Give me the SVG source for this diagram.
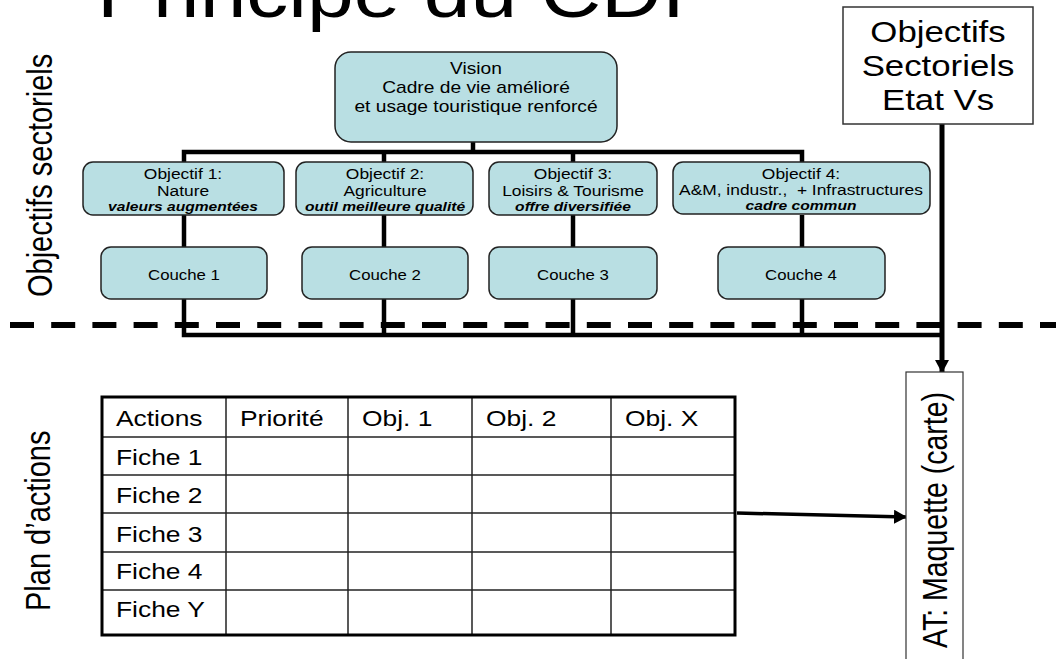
<svg xmlns="http://www.w3.org/2000/svg" width="1056" height="659" viewBox="0 0 1056 659">
<style>
text{font-family:"Liberation Sans",Arial,sans-serif;fill:#000}
.box{fill:#B9DFE3;stroke:#222;stroke-width:1.5}
.plain{fill:#fff;stroke:#333;stroke-width:1.5}
.wire{fill:none;stroke:#000;stroke-width:4.5}
.bi{font-weight:bold;font-style:italic;font-size:13px}
.grid{stroke:#222;stroke-width:1.5}
</style>
<defs>
<marker id="ah" markerWidth="14" markerHeight="14" refX="12" refY="7" orient="auto" markerUnits="userSpaceOnUse">
<path d="M0,0 L13,7 L0,14 Z" fill="#000"/>
</marker>
</defs>
<rect width="1056" height="659" fill="#fff"/>

<g id="title">
<text transform="translate(97,17) scale(1.2,1)" font-size="70">Principe du CDI</text>
</g>

<g id="side-labels">
<text transform="translate(52,297) scale(1.2,1) rotate(-90)" font-size="29">Objectifs sectoriels</text>
<text transform="translate(50,611) scale(1.2,1) rotate(-90)" font-size="29">Plan d’actions</text>
</g>

<g id="separator">
<line x1="10" y1="325" x2="1056" y2="325" stroke="#000" stroke-width="6" stroke-dasharray="24 17.2"/>
</g>

<g id="connectors">
<polyline class="wire" points="473,142 473,152"/>
<polyline class="wire" points="184,162 184,152 802,152 802,162"/>
<line class="wire" x1="384" y1="152" x2="384" y2="162"/>
<line class="wire" x1="573" y1="152" x2="573" y2="162"/>
<line class="wire" x1="184" y1="215" x2="184" y2="247"/>
<line class="wire" x1="384" y1="215" x2="384" y2="247"/>
<line class="wire" x1="573" y1="215" x2="573" y2="247"/>
<line class="wire" x1="802" y1="215" x2="802" y2="247"/>
<polyline class="wire" points="184,299 184,335 944,335"/>
<line class="wire" x1="384" y1="299" x2="384" y2="335"/>
<line class="wire" x1="573" y1="299" x2="573" y2="335"/>
<line class="wire" x1="802" y1="299" x2="802" y2="335"/>
<line x1="942" y1="124" x2="942" y2="372" stroke="#000" stroke-width="5" marker-end="url(#ah)"/>
<line x1="737" y1="513" x2="906" y2="517" stroke="#000" stroke-width="3.5" marker-end="url(#ah)"/>
</g>

<g id="vision">
<rect class="box" x="335" y="52" width="282" height="90" rx="16"/>
<text transform="translate(476,0) scale(1.2,1)" font-size="16" text-anchor="middle"><tspan x="0" y="74">Vision</tspan><tspan x="0" y="93">Cadre de vie amélioré</tspan><tspan x="0" y="112">et usage touristique renforcé</tspan></text>
</g>

<g id="objectif1">
<rect class="box" x="83" y="162" width="201" height="53" rx="10"/>
<text transform="translate(183,0) scale(1.2,1)" font-size="14.5" text-anchor="middle"><tspan x="0" y="179">Objectif 1:</tspan><tspan x="0" y="196">Nature</tspan><tspan x="0" y="211" class="bi">valeurs augmentées</tspan></text>
</g>
<g id="objectif2">
<rect class="box" x="296" y="162" width="177" height="53" rx="10"/>
<text transform="translate(385,0) scale(1.2,1)" font-size="14.5" text-anchor="middle"><tspan x="0" y="179">Objectif 2:</tspan><tspan x="0" y="196">Agriculture</tspan><tspan x="0" y="211" class="bi">outil meilleure qualité</tspan></text>
</g>
<g id="objectif3">
<rect class="box" x="489" y="162" width="168" height="53" rx="10"/>
<text transform="translate(573,0) scale(1.2,1)" font-size="14.5" text-anchor="middle"><tspan x="0" y="179">Objectif 3:</tspan><tspan x="0" y="196">Loisirs &amp; Tourisme</tspan><tspan x="0" y="211" class="bi">offre diversifiée</tspan></text>
</g>
<g id="objectif4">
<rect class="box" x="673" y="162" width="257" height="52" rx="10"/>
<text transform="translate(801,0) scale(1.2,1)" font-size="14.5" text-anchor="middle"><tspan x="0" y="179">Objectif 4:</tspan><tspan x="0" y="195">A&amp;M, industr., &#160;+ Infrastructures</tspan><tspan x="0" y="210" class="bi">cadre commun</tspan></text>
</g>

<g id="couche1">
<rect class="box" x="101" y="247" width="166" height="52" rx="10"/>
<text transform="translate(184,280) scale(1.2,1)" font-size="14" text-anchor="middle">Couche 1</text>
</g>
<g id="couche2">
<rect class="box" x="302" y="247" width="166" height="52" rx="10"/>
<text transform="translate(385,280) scale(1.2,1)" font-size="14" text-anchor="middle">Couche 2</text>
</g>
<g id="couche3">
<rect class="box" x="489" y="247" width="168" height="52" rx="10"/>
<text transform="translate(573,280) scale(1.2,1)" font-size="14" text-anchor="middle">Couche 3</text>
</g>
<g id="couche4">
<rect class="box" x="718" y="247" width="167" height="52" rx="10"/>
<text transform="translate(801,280) scale(1.2,1)" font-size="14" text-anchor="middle">Couche 4</text>
</g>

<g id="objectifs-sectoriels">
<rect class="plain" x="843" y="7" width="190" height="117"/>
<text transform="translate(938,0) scale(1.2,1)" font-size="29" text-anchor="middle"><tspan x="0" y="42">Objectifs</tspan><tspan x="0" y="76">Sectoriels</tspan><tspan x="0" y="110">Etat Vs</tspan></text>
</g>

<g id="maquette">
<rect x="906" y="372" width="57" height="300" fill="#fff" stroke="#333" stroke-width="1.2"/>
<text transform="translate(947,648) scale(1.2,1) rotate(-90)" font-size="28.5">AT: Maquette (carte)</text>
</g>

<g id="table">
<rect x="102" y="397" width="633" height="238" fill="#fff" stroke="none"/>
<g class="grid">
<line x1="226" y1="397" x2="226" y2="635"/>
<line x1="348" y1="397" x2="348" y2="635"/>
<line x1="472" y1="397" x2="472" y2="635"/>
<line x1="611" y1="397" x2="611" y2="635"/>
<line x1="102" y1="437" x2="735" y2="437"/>
<line x1="102" y1="475" x2="735" y2="475"/>
<line x1="102" y1="513" x2="735" y2="513"/>
<line x1="102" y1="552" x2="735" y2="552"/>
<line x1="102" y1="590" x2="735" y2="590"/>
</g>
<rect x="102" y="397" width="633" height="238" fill="none" stroke="#000" stroke-width="3"/>
<text transform="translate(116,0) scale(1.2,1)" font-size="22"><tspan x="0" y="426">Actions</tspan><tspan x="0" y="465">Fiche 1</tspan><tspan x="0" y="503">Fiche 2</tspan><tspan x="0" y="542">Fiche 3</tspan><tspan x="0" y="579">Fiche 4</tspan><tspan x="0" y="617">Fiche Y</tspan></text>
<text transform="translate(240,426) scale(1.2,1)" font-size="22">Priorité</text>
<text transform="translate(362,426) scale(1.2,1)" font-size="22">Obj. 1</text>
<text transform="translate(486,426) scale(1.2,1)" font-size="22">Obj. 2</text>
<text transform="translate(625,426) scale(1.2,1)" font-size="22">Obj. X</text>
</g>
</svg>
